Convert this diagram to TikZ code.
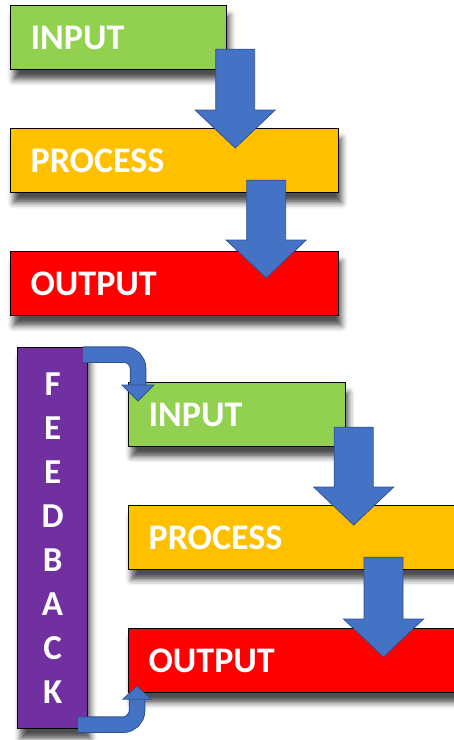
\documentclass[tikz,border=0pt]{standalone}
\usepackage{fontspec}
\setmainfont{Carlito}
\usetikzlibrary{calc,shadows.blur}

\definecolor{ingreen}{HTML}{92D050}
\definecolor{procyellow}{HTML}{FFC000}
\definecolor{outred}{HTML}{FF0000}
\definecolor{fbpurple}{HTML}{7030A0}
\definecolor{arrowblue}{HTML}{4472C4}
\definecolor{arrowedge}{HTML}{2F528F}

\tikzset{
  stagebox/.style={draw=black, line width=1.2pt, fill=#1, text=white,
    font=\bfseries\fontsize{36}{40}\selectfont, inner xsep=20pt, inner ysep=0pt,
    minimum height=64pt, align=left, anchor=north west,
    blur shadow={shadow xshift=3pt, shadow yshift=-10pt, shadow blur radius=6pt, shadow opacity=70}},
  feedbar/.style={draw=black, line width=1.2pt, fill=fbpurple, text=white,
    font=\bfseries\fontsize{35}{44}\selectfont, align=center, inner sep=0pt,
    minimum width=70pt, minimum height=381pt, anchor=north west,
    blur shadow={shadow xshift=3pt, shadow yshift=-10pt, shadow blur radius=6pt, shadow opacity=70}},
  blockarrow/.style={draw=arrowedge, line width=0.8pt, fill=arrowblue, line join=miter}
}

% block arrow pointing down: start of the shaft, tip
\newcommand{\blockarrow}[2]{%
  \draw[blockarrow] let \p1=(#1), \p2=(#2) in
    (\x1-19.5pt,\y1) -- (\x1+19.5pt,\y1) -- (\x1+19.5pt,\y2+38pt) -- (\x1+40pt,\y2+38pt)
    -- (\x1,\y2) -- (\x1-40pt,\y2+38pt) -- (\x1-19.5pt,\y2+38pt) -- cycle;}

\begin{document}
\begin{tikzpicture}[x=1pt,y=-1pt]
  \useasboundingbox (0,0) rectangle (454,740);
  \clip (0,0) rectangle (454,740);

  %%%%% upper chain %%%%%
  \node[stagebox=ingreen, text width=176pt] (in1) at (10,5) {INPUT};
  \node[stagebox=procyellow, text width=288pt] (pr1) at (10,128) {PROCESS};
  \node[stagebox=outred, text width=288pt] (ou1) at (10,251) {OUTPUT};

  \coordinate (a1s) at ($(in1.south east)+(8,-21)$);
  \coordinate (a1e) at ($(a1s |- pr1.north)+(0,20)$);
  \coordinate (a2s) at ($(pr1.south east)+(-73,-13)$);
  \coordinate (a2e) at ($(a2s |- ou1.north)+(0,27)$);
  \blockarrow{a1s}{a1e}
  \blockarrow{a2s}{a2e}

  %%%%% lower chain with feedback %%%%%
  \node[feedbar] (fb) at (17,347) {F\\E\\E\\D\\B\\A\\C\\K};
  \node[stagebox=ingreen, text width=177pt] (in2) at (128,382) {INPUT};
  \node[stagebox=procyellow, text width=290pt] (pr2) at (128,505) {PROCESS};
  \node[stagebox=outred, text width=290pt] (ou2) at (128,628) {OUTPUT};

  \coordinate (a3s) at ($(in2.south east)+(7.5,-20)$);
  \coordinate (a3e) at ($(a3s |- pr2.north)+(0,20)$);
  \coordinate (a4s) at ($(pr2.south west)+(255.5,-13)$);
  \coordinate (a4e) at ($(a4s |- ou2.north)+(0,29)$);
  \blockarrow{a3s}{a3e}
  \blockarrow{a4s}{a4e}

  % feedback into input
  \coordinate (f1s) at ($(fb.north east)+(-5,7.5)$);
  \coordinate (f1e) at ($(in2.north west)+(10,19)$);
  \draw[line width=16.5pt, arrowedge, rounded corners=14pt] (f1s) -| ($(f1e)+(0,-15)$);
  \draw[line width=14.5pt, arrowblue, rounded corners=14pt] (f1s) -| ($(f1e)+(0,-15)$);
  \draw[blockarrow] ($(f1e)+(-16,-16)$) -- ($(f1e)+(16,-16)$) -- (f1e) -- cycle;

  % output back to feedback
  \coordinate (f2s) at ($(fb.south east)+(-10,-4.5)$);
  \coordinate (f2e) at ($(ou2.south west)+(9,-7)$);
  \draw[line width=16.5pt, arrowedge, rounded corners=14pt] (f2s) -| ($(f2e)+(0,12)$);
  \draw[line width=14.5pt, arrowblue, rounded corners=14pt] (f2s) -| ($(f2e)+(0,12)$);
  \draw[blockarrow] ($(f2e)+(-14,13)$) -- ($(f2e)+(14,13)$) -- (f2e) -- cycle;
\end{tikzpicture}
\end{document}
